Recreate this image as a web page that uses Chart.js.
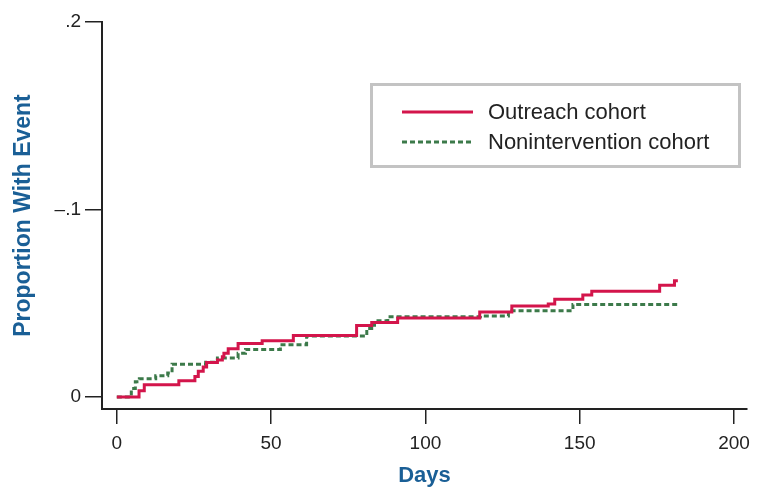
<!DOCTYPE html>
<html>
<head>
<meta charset="utf-8">
<script src="https://cdn.jsdelivr.net/npm/chart.js@4.4.1/dist/chart.umd.min.js"></script>
<style>
  html, body { margin: 0; padding: 0; background: #fff; }
  #wrap { width: 758px; height: 489px; }
</style>
</head>
<body>
<div id="wrap"><canvas id="km" width="758" height="489"></canvas></div>
<script>
// Kaplan-Meier style cumulative proportion with event
var outreachDays = [0, 7.2, 8.9, 20.1, 25.3, 26.4, 28.0, 29.1, 32.6, 34.2, 34.7, 36.1, 39.3, 47.1, 57.2,
    77.7, 82.6, 91.0, 117.6, 128.0, 139.8, 141.9, 151.0, 153.9, 175.9, 180.7, 181.8];
var outreachProp = [0, 0.0033, 0.0066, 0.0087, 0.0110, 0.0138, 0.0160, 0.0184, 0.0197, 0.0215, 0.0233, 0.0258, 0.0286, 0.0300, 0.0328,
    0.0382, 0.0398, 0.0421, 0.0453, 0.0485, 0.0496, 0.0521, 0.0544, 0.0564, 0.0596, 0.0620, 0.0620];

var noninterDays = [0, 4.7, 6.0, 7.3, 12.6, 16.5, 17.9, 28.8, 32.6, 39.3, 41.7, 53.0, 61.5,
    81.0, 83.5, 87.8, 117.8, 126.9, 147.8, 182.4];
var noninterProp = [0, 0.0046, 0.0082, 0.0097, 0.0114, 0.0128, 0.0175, 0.0186, 0.0208, 0.0233, 0.0254, 0.0279, 0.0325,
    0.0366, 0.0407, 0.0428, 0.0432, 0.0460, 0.0494, 0.0494];

var xTicks = [0, 50, 100, 150, 200];
var yTicks = [0, 0.1, 0.2];
var yTickLabels = ['0', '\u2013.1', '.2'];

var seriesLabels = ['Outreach cohort', 'Nonintervention cohort'];

var RED = '#d3154b';
var GREEN = '#3c7a4a';
var BLUE = '#1a5f96';
var INK = '#222222';
var FONT = '"Liberation Sans", Arial, Helvetica, sans-serif';

function toPoints(xs, ys) {
    return xs.map(function (x, i) { return { x: x, y: ys[i] }; });
}

// legend box drawn inside the plot, stata style
var boxLegend = {
    id: 'boxLegend',
    afterDraw: function (chart) {
        var ctx = chart.ctx;
        ctx.save();
        ctx.fillStyle = '#ffffff';
        ctx.fillRect(371.5, 84.5, 368, 82);
        ctx.strokeStyle = '#c3c3c3';
        ctx.lineWidth = 3;
        ctx.strokeRect(371.5, 84.5, 368, 82);
        chart.data.datasets.forEach(function (ds, i) {
            var y = 112 + i * 30;
            ctx.beginPath();
            ctx.strokeStyle = ds.borderColor;
            ctx.lineWidth = ds.borderWidth;
            ctx.setLineDash(ds.borderDash || []);
            ctx.moveTo(402, y);
            ctx.lineTo(473, y);
            ctx.stroke();
            ctx.setLineDash([]);
            ctx.fillStyle = INK;
            ctx.font = '22px ' + FONT;
            ctx.textBaseline = 'middle';
            ctx.textAlign = 'left';
            ctx.fillText(ds.label, 488, y + 1);
        });
        ctx.restore();
    }
};

var ctx = document.getElementById('km').getContext('2d');
var chart = new Chart(ctx, {
    type: 'line',
    data: {
        datasets: [{
            label: seriesLabels[0],
            data: toPoints(outreachDays, outreachProp),
            borderColor: RED,
            borderWidth: 3,
            stepped: 'before',
            pointRadius: 0,
            fill: false
        }, {
            label: seriesLabels[1],
            data: toPoints(noninterDays, noninterProp),
            borderColor: GREEN,
            borderWidth: 3,
            borderDash: [5, 3],
            stepped: 'before',
            pointRadius: 0,
            fill: false
        }]
    },
    options: {
        responsive: false,
        animation: false,
        devicePixelRatio: 1,
        layout: { padding: { left: 0, right: 6, top: 22, bottom: 0 } },
        plugins: {
            legend: { display: false },
            tooltip: { enabled: false }
        },
        scales: {
            x: {
                type: 'linear',
                min: -4.8,
                max: 204.2,
                afterBuildTicks: function (scale) {
                    scale.ticks = xTicks.map(function (v) { return { value: v }; });
                },
                afterFit: function (scale) { scale.height = 80; },
                border: { display: true, color: INK, width: 2 },
                grid: { display: true, drawOnChartArea: false, drawTicks: true, tickLength: 15, color: INK, lineWidth: 1.5 },
                ticks: {
                    color: INK,
                    font: { family: FONT, size: 19 },
                    padding: 8,
                    maxRotation: 0
                },
                title: {
                    display: true,
                    text: 'Days',
                    color: BLUE,
                    font: { family: FONT, size: 22, weight: 'bold' },
                    padding: { top: 0, bottom: 0 }
                }
            },
            y: {
                type: 'linear',
                min: -0.0064,
                max: 0.2,
                afterBuildTicks: function (scale) {
                    scale.ticks = yTicks.map(function (v) { return { value: v }; });
                },
                afterFit: function (scale) { scale.width = 102; },
                border: { display: true, color: INK, width: 2 },
                grid: { display: true, drawOnChartArea: false, drawTicks: true, tickLength: 17, color: INK, lineWidth: 1.5 },
                ticks: {
                    color: INK,
                    font: { family: FONT, size: 19 },
                    padding: 4,
                    callback: function (value, index) { return yTickLabels[index]; }
                },
                title: {
                    display: true,
                    text: 'Proportion With Event',
                    color: BLUE,
                    font: { family: FONT, size: 23, weight: 'bold' },
                    padding: { top: 10, bottom: 0 }
                }
            }
        }
    },
    plugins: [boxLegend]
});
</script>
</body>
</html>
